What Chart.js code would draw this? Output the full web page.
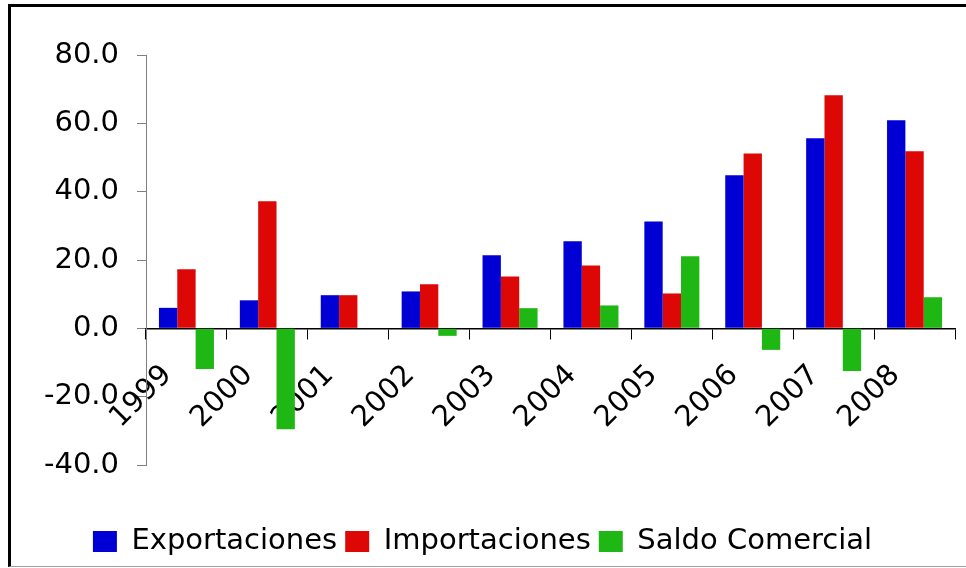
<!DOCTYPE html>
<html>
<head>
<meta charset="utf-8">
<script src="https://cdn.jsdelivr.net/npm/chart.js@4.4.1/dist/chart.umd.min.js"></script>
<style>
    body { margin: 0; background: #fff; }
    #wrap { position: relative; width: 966px; height: 568px; overflow: hidden; }
    #frame {
        position: absolute; left: 8px; top: 4px; width: 980px; height: 563px;
        box-sizing: border-box;
        border-top: 3px solid #000; border-left: 3px solid #000; border-bottom: 1px solid #a0a0a0;
        pointer-events: none;
    }
    canvas { position: absolute; left: 0; top: 0; }
</style>
</head>
<body>
<div id="wrap">
    <canvas id="tradeChart" width="966" height="568"></canvas>
    <div id="frame"></div>
</div>
<script>
const years = ['1999', '2000', '2001', '2002', '2003', '2004', '2005', '2006', '2007', '2008'];
const exportaciones = [6.0, 8.2, 9.7, 10.8, 21.4, 25.5, 31.3, 44.8, 55.6, 60.9];
const importaciones = [17.3, 37.2, 9.7, 12.9, 15.2, 18.4, 10.2, 51.2, 68.2, 51.8];
const saldoComercial = [-11.9, -29.5, 0.0, -2.2, 5.9, 6.7, 21.1, -6.3, -12.5, 9.1];
const yTicks = [-40, -20, 0, 20, 40, 60, 80];

const font = { family: "'DejaVu Sans', Verdana, sans-serif", size: 29 };

// empty box between the plot and the legend (the x axis sits on the 0 line)
const legendGap = {
    id: 'legendGap',
    beforeInit(chart) {
        Chart.layouts.addBox(chart, {
            position: 'bottom', weight: 500, fullSize: false, options: {},
            top: 0, left: 0, right: 0, bottom: 0, width: 0, height: 0,
            isHorizontal() { return true; },
            update(maxWidth) { this.width = maxWidth; this.height = 54; },
            draw() {}
        });
    }
};

let tradeChart = new Chart("tradeChart", {
    type: "bar",
    plugins: [legendGap],
    data: {
        labels: years,
        datasets: [{
            label: 'Exportaciones',
            data: exportaciones,
            backgroundColor: "#0000d4"
        }, {
            label: 'Importaciones',
            data: importaciones,
            backgroundColor: "#dd0806"
        }, {
            label: 'Saldo Comercial',
            data: saldoComercial,
            backgroundColor: "#1fb714"
        }]
    },
    options: {
        responsive: false,
        animation: false,
        devicePixelRatio: 1,
        categoryPercentage: 0.68,
        barPercentage: 1.0,
        layout: { padding: { left: 10, right: 11, top: 55, bottom: 2 } },
        plugins: {
            tooltip: { enabled: false },
            legend: {
                display: true,
                position: 'bottom',
                labels: { boxWidth: 24, boxHeight: 21, padding: 8, color: '#000', font: font }
            }
        },
        scales: {
            x: {
                position: { y: 0 },
                grid: { offset: true, drawOnChartArea: false, tickLength: 10, color: '#000' },
                border: { color: '#000', width: 1.5 },
                ticks: {
                    autoSkip: false, minRotation: 45, maxRotation: 45,
                    padding: 20, labelOffset: -19, color: '#000', font: font
                }
            },
            y: {
                min: -40,
                max: 80,
                afterBuildTicks: function (s) { s.ticks = yTicks.map(v => ({ value: v })); },
                grid: { drawOnChartArea: false, tickLength: 9, color: '#808080' },
                border: { color: '#808080', width: 1 },
                ticks: {
                    padding: 18, color: '#000', font: font,
                    callback: function (v) { return v.toFixed(1); }
                },
                afterFit: function (s) { s.width = 136; }
            }
        }
    }
});
</script>
</body>
</html>
